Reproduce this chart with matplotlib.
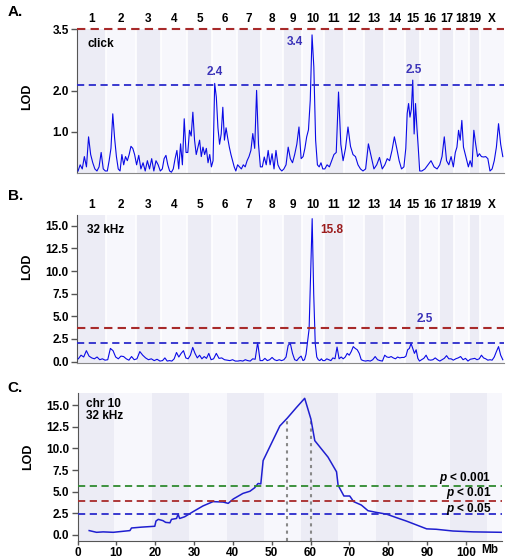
import numpy as np
import matplotlib
matplotlib.use("Agg")
import matplotlib.pyplot as plt
from matplotlib.transforms import blended_transform_factory

plt.rcParams['font.family'] = ['Liberation Sans', 'DejaVu Sans']
plt.rcParams['font.weight'] = 'bold'
plt.rcParams['mathtext.fontset'] = 'custom'
plt.rcParams['mathtext.it'] = 'Liberation Sans:bold:italic'
plt.rcParams['mathtext.rm'] = 'Liberation Sans:bold'

# chromosomes and their lengths (cM)
chroms = ['1', '2', '3', '4', '5', '6', '7', '8', '9', '10',
          '11', '12', '13', '14', '15', '16', '17', '18', '19', 'X']
chrom_len = [100, 99, 88, 87, 86, 83, 84, 73, 66, 73,
             70, 68, 66, 73, 52, 62, 54, 50, 38, 80]

# genome scan, click response (LOD per chromosome)
click_lod = [
    [0.05, 0.2, 0.1, 0.4, 0.15, 0.88, 0.45, 0.25, 0.1, 0.05, 0.15, 0.5, 0.1, 0.05],
    [0.05, 0.3, 0.6, 1.44, 0.85, 0.4, 0.1, 0.05, 0.45, 0.2, 0.4, 0.3, 0.45, 0.65, 0.6, 0.45],
    [0.2, 0.43, 0.1, 0.25, 0.05, 0.3, 0.1, 0.35, 0.05, 0.3, 0.2, 0.05],
    [0.1, 0.35, 0.43, 0.2, 0.05, 0.02, 0.1, 0.35, 0.55, 0.1, 0.71, 0.2, 1.32, 0.5],
    [0.5, 1.04, 0.9, 1.48, 0.8, 0.45, 0.63, 0.8, 0.4, 0.63, 0.45, 0.6, 0.25, 0.45, 0.15],
    [0.3, 2.18, 1.85, 1.1, 0.7, 0.95, 1.6, 0.8, 1.1, 0.85, 0.63, 0.45, 0.3, 0.15, 0.05],
    [0.2, 0.15, 0.1, 0.2, 0.15, 0.3, 0.4, 0.55, 0.96, 0.6, 2.01, 0.7, 0.15],
    [0.15, 0.39, 0.2, 0.55, 0.2, 0.47, 0.1, 0.55, 0.2, 0.1, 0.05],
    [0.1, 0.2, 0.63, 0.35, 0.25, 0.45, 0.7, 1.12, 0.35],
    [0.4, 0.6, 0.88, 1.05, 1.77, 3.36, 2.58, 0.8, 0.2, 0.15, 0.25, 0.1],
    [0.1, 0.2, 0.15, 0.3, 0.45, 0.5, 1.97, 0.7, 0.3],
    [0.6, 1.12, 0.65, 0.45, 0.4, 0.2, 0.1, 0.05],
    [0.1, 0.71, 0.4, 0.1, 0.2, 0.38, 0.1],
    [0.2, 0.35, 0.3, 0.55, 0.88, 0.6, 0.3, 0.1, 0.15],
    [0.6, 1.45, 1.69, 1.36, 1.55, 2.26, 0.95, 1.69, 1.1, 0.6, 0.05],
    [0.05, 0.1, 0.2, 0.3, 0.15, 0.1],
    [0.2, 0.4, 0.88, 0.3, 0.2, 0.4, 0.15],
    [0.5, 0.63, 1.04, 0.8, 1.28, 0.63, 0.47, 0.3, 0.15],
    [0.3, 0.15, 1.04, 0.7, 0.4, 0.47],
    [0.4, 0.39, 0.4, 0.35, 0.05, 0.1, 0.3, 0.63, 1.2, 0.7, 0.4],
]

# genome scan, 32 kHz
khz_lod = [
    [0.3, 0.7, 0.5, 1.2, 0.6, 0.4, 0.3, 0.5, 0.2, 0.3, 0.15],
    [0.2, 1.45, 1.2, 0.5, 0.3, 0.6, 0.55, 0.3, 0.15, 0.55, 0.2],
    [0.3, 1.1, 0.7, 0.4, 0.2, 0.3, 0.1, 0.25, 0.05],
    [0.1, 0.4, 0.05, 0.1, 0.05, 0.3, 1.0, 0.5, 0.9, 1.2, 0.4],
    [0.3, 0.7, 1.56, 0.9, 0.4, 0.7, 0.3, 0.55, 0.35, 0.9, 0.2],
    [0.3, 0.9, 0.35, 0.4, 0.2, 0.15, 0.1, 0.2, 0.05],
    [0.05, 0.1, 0.05, 0.2, 0.1, 0.05, 0.3, 0.25, 2.1, 0.1],
    [0.1, 0.35, 0.1, 0.2, 0.45, 0.2, 0.1, 0.2, 0.1],
    [0.2, 0.5, 1.8, 2.0, 0.9, 0.2, 0.1, 0.4, 0.6],
    [0.1, 0.2, 0.8, 2.2, 3.6, 9.5, 15.8, 7.5, 2.0, 0.5, 0.2, 0.1, 0.3, 0.1],
    [0.1, 0.3, 0.2, 0.1, 0.4, 0.3, 1.6, 0.3, 0.5, 0.3],
    [0.5, 0.9, 0.7, 1.1, 1.65, 1.45, 1.3, 0.9, 0.2, 0.1],
    [0.05, 0.1, 0.05, 0.2, 0.55, 0.2, 0.1, 0.05],
    [0.7, 0.5, 0.45, 0.55, 0.4, 0.3, 0.5, 0.4, 0.45, 0.45],
    [0.6, 1.3, 1.45, 2.0, 1.45, 0.9, 1.3, 0.35, 0.05],
    [0.2, 0.35, 0.7, 0.2, 0.15, 0.2, 0.4, 0.2],
    [0.05, 0.2, 0.35, 0.65, 0.3, 0.3, 0.15],
    [0.3, 0.4, 0.55, 0.2, 0.35, 0.05],
    [0.25, 0.3, 0.35, 0.2, 0.3],
    [0.7, 0.4, 0.3, 0.15, 0.2, 0.15, 0.5, 1.1, 1.65, 0.7, 0.2],
]

# chromosome 10 fine map, 32 kHz
chr10_mb = [3.0, 4.9, 6.6, 9.2, 13.5, 13.9, 16.5, 19.9, 20.2, 20.8,
            22.0, 22.7, 23.8, 24.2, 25.5, 25.9, 26.3, 27.6, 29.8, 32.3,
            34.9, 37.5, 38.8, 40.1, 42.6, 44.4, 45.6, 46.5, 47.2, 47.8,
            52.1, 54.0, 56.4, 58.5, 60.1, 61.1, 64.5, 66.7, 67.1, 68.6,
            70.1, 71.1, 73.1, 74.8, 77.0, 79.6, 82.1, 84.7, 87.3, 89.9,
            92.4, 96.7, 101.9, 109.4]
chr10_lod = [0.5, 0.3, 0.35, 0.3, 0.5, 0.8, 0.9, 1.0, 1.6, 1.8,
             1.65, 1.45, 1.4, 1.8, 1.9, 2.4, 1.9, 2.1, 2.7, 3.35,
             3.85, 3.8, 3.65, 4.15, 4.8, 5.05, 5.45, 5.95, 5.9, 8.6,
             12.6, 13.5, 14.75, 15.8, 13.4, 10.9, 9.0, 7.3, 5.75, 4.5,
             4.5, 3.85, 3.45, 2.8, 2.6, 2.4, 2.0, 1.6, 1.15, 0.7,
             0.65, 0.45, 0.35, 0.3]
ci_mb = [54, 60]

thr_click = [3.5, 2.14]
thr_khz = [3.75, 2.1]
thr_chr10 = [5.7, 3.95, 2.4]
thr_chr10_labels = ['$p$ < 0.001', '$p$ < 0.01', '$p$ < 0.05']

DARK = '#ececf5'
LIGHT = '#f7f7fc'
LINE = '#0a0ae6'
RED = '#a82a2a'
BLUE = '#2b2bcc'
GREEN = '#2f8a2f'
LABEL_BLUE = '#3a32b8'

starts = np.concatenate([[0], np.cumsum(chrom_len)[:-1]])
total = sum(chrom_len)


def genome_xy(values):
    xs, ys = [], []
    for s, L, v in zip(starts, chrom_len, values):
        n = len(v)
        xs.extend(s + (np.arange(n) + 0.5) / n * L)
        ys.extend(v)
    return np.array(xs), np.array(ys)


def style_axis(ax):
    for sp in ['top', 'right']:
        ax.spines[sp].set_visible(False)
    ax.spines['left'].set_color('#555555')
    ax.spines['bottom'].set_color('#888888')
    ax.tick_params(axis='y', length=4, width=1, color='#555555', labelsize=8.5, pad=2)


def genome_panel(ax, values, ylim):
    for i, (s, L) in enumerate(zip(starts, chrom_len)):
        ax.axvspan(s, s + L, color=DARK if i % 2 == 0 else LIGHT, lw=0, zorder=0)
        if i > 0:
            ax.axvline(s, color='white', lw=1.2, zorder=0.5)
    x, y = genome_xy(values)
    ax.plot(x, y, color=LINE, lw=0.8, zorder=3)
    ax.set_xlim(0, total)
    ax.set_ylim(*ylim)
    ax.set_xticks(starts + np.array(chrom_len) / 2)
    ax.set_xticklabels(chroms)
    ax.xaxis.tick_top()
    ax.tick_params(axis='x', length=0, labelsize=8.5, pad=3)
    style_axis(ax)


fig = plt.figure(figsize=(5.1, 5.6), dpi=100)

# --- A: click ---
axA = fig.add_axes([0.151, 0.691, 0.837, 0.257])
genome_panel(axA, click_lod, (0, 3.5))
axA.axhline(thr_click[0], color=RED, lw=1.5, ls=(0, (4, 2.5)), zorder=4, clip_on=False)
axA.axhline(thr_click[1], color=BLUE, lw=1.3, ls=(0, (4, 2.5)), zorder=4)
axA.set_yticks([1.0, 2.0, 3.5])
axA.set_yticklabels(['1.0', '2.0', '3.5'])
axA.set_ylabel('LOD', fontsize=9, fontweight='bold')
axA.yaxis.set_label_coords(-0.103, 0.53)
axA.text(0.024, 0.9, 'click', transform=axA.transAxes, fontsize=8.5, va='center')
axA.text(742, 3.19, '3.4', color=LABEL_BLUE, fontsize=8.5, ha='center', va='center')
axA.text(470, 2.46, '2.4', color=LABEL_BLUE, fontsize=8.5, ha='center', va='center')
axA.text(1147, 2.5, '2.5', color=LABEL_BLUE, fontsize=8.5, ha='center', va='center')

# --- B: 32 kHz ---
axB = fig.add_axes([0.151, 0.352, 0.837, 0.264])
genome_panel(axB, khz_lod, (-0.15, 16.2))
axB.axhline(thr_khz[0], color=RED, lw=1.5, ls=(0, (4, 2.5)), zorder=4)
axB.axhline(thr_khz[1], color=BLUE, lw=1.3, ls=(0, (4, 2.5)), zorder=4)
axB.set_yticks(np.arange(0, 15.1, 2.5))
axB.set_yticklabels(['%.1f' % t for t in np.arange(0, 15.1, 2.5)])
axB.set_ylabel('LOD', fontsize=9, fontweight='bold')
axB.yaxis.set_label_coords(-0.103, 0.65)
axB.text(0.024, 0.9, '32 kHz', transform=axB.transAxes, fontsize=8.5, va='center')
axB.text(865, 14.6, '15.8', color='#9c1c1c', fontsize=8.5, ha='center', va='center')
axB.text(1183, 4.7, '2.5', color=LABEL_BLUE, fontsize=8.5, ha='center', va='center')

# --- C: chr 10 ---
axC = fig.add_axes([0.152, 0.034, 0.833, 0.264])
for k in range(6):
    axC.axvspan(k * 19.2, k * 19.2 + 9.5, color=DARK, lw=0, zorder=0)
axC.set_facecolor(LIGHT)
axC.plot(chr10_mb, chr10_lod, color='#1f1fd0', lw=1.1, zorder=3)
ci_top = np.interp(ci_mb, chr10_mb, chr10_lod)
axC.vlines(ci_mb, -0.7, ci_top, colors='#888888', lw=1.5, linestyles=(0, (1.5, 2)), zorder=2)
for t, c in zip(thr_chr10, [GREEN, RED, BLUE]):
    axC.axhline(t, color=c, lw=1.3, ls=(0, (4, 2.5)), zorder=4)
for t, lab in zip([6.6, 4.8, 3.0], thr_chr10_labels):
    axC.text(106.5, t, lab, fontsize=8.5, ha='right', va='center', zorder=5)
axC.set_xlim(0, 109.4)
axC.set_ylim(-0.7, 16.4)
axC.set_xticks(np.arange(0, 101, 10))
axC.set_xticklabels([str(t) for t in range(0, 101, 10)])
axC.tick_params(axis='x', length=3, width=1, color='#555555', labelsize=8.5, pad=1)
axC.set_yticks(np.arange(0, 15.1, 2.5))
axC.set_yticklabels(['%.1f' % t for t in np.arange(0, 15.1, 2.5)])
style_axis(axC)
axC.spines['bottom'].set_color('#555555')
axC.set_ylabel('LOD', fontsize=9, fontweight='bold')
axC.yaxis.set_label_coords(-0.103, 0.57)
axC.text(0.021, 0.965, 'chr 10\n32 kHz', transform=axC.transAxes, fontsize=8.5,
         va='top', linespacing=1.0)
tr = blended_transform_factory(axC.transData, axC.transAxes)
axC.text(106.2, -0.058, 'Mb', transform=tr, fontsize=8.5, ha='center', va='center')

fig.text(0.015, 1 - 12 / 560, 'A.', fontsize=11, va='center')
fig.text(0.015, 1 - 196 / 560, 'B.', fontsize=11, va='center')
fig.text(0.015, 1 - 388 / 560, 'C.', fontsize=11, va='center')

fig.savefig('out.png', dpi=100)
